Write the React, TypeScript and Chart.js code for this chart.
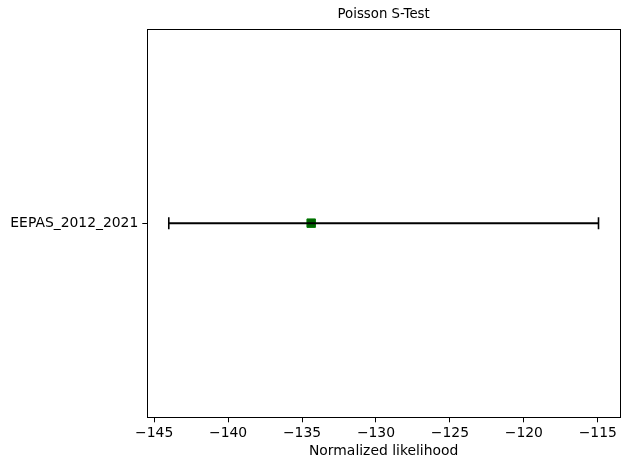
import React, { useEffect, useRef } from "react";
import { Chart, registerables } from "chart.js";

Chart.register(...registerables);

const models = ["EEPAS_2012_2021"];
const lowerBounds = [-144.01];
const upperBounds = [-114.95];
const observed = [-134.38];
const xTicks = [-145, -140, -135, -130, -125, -120, -115];
const chartTitle = "Poisson S-Test";
const xLabel = "Normalized likelihood";

const FONT = "'DejaVu Sans', sans-serif";

export default function App() {
  const ref = useRef<HTMLCanvasElement>(null);
  useEffect(() => {
    if (!ref.current) return;
    const lo = Math.min(...lowerBounds);
    const hi = Math.max(...upperBounds);
    const pad = (hi - lo) * 0.05;
    const datasets: any[] = [];
    models.forEach((m, i) => {
      datasets.push({
        label: m + " range",
        data: [
          { x: lowerBounds[i], y: i },
          { x: upperBounds[i], y: i },
        ],
        showLine: true,
        borderColor: "#000",
        borderWidth: 2,
        pointStyle: "line",
        pointRotation: 90,
        pointRadius: 6,
        pointBorderColor: "#000",
        pointBorderWidth: 1.6,
        pointBackgroundColor: "#000",
      });
      datasets.push({
        label: m,
        data: [{ x: observed[i], y: i }],
        pointStyle: "rect",
        pointRadius: 6,
        pointBackgroundColor: "#006400",
        pointBorderColor: "#007a00",
        pointBorderWidth: 1,
      });
    });
    const boxPlugin = {
      id: "boxAndTitle",
      afterDraw(chart: any) {
        const { ctx, chartArea } = chart;
        ctx.save();
        ctx.strokeStyle = "#000";
        ctx.lineWidth = 1;
        ctx.strokeRect(
          Math.round(chartArea.left) + 0.5,
          Math.round(chartArea.top) + 0.5,
          Math.round(chartArea.right - chartArea.left),
          Math.round(chartArea.bottom - chartArea.top)
        );
        ctx.fillStyle = "#000";
        ctx.font = `13.3px ${FONT}`;
        ctx.textAlign = "center";
        ctx.textBaseline = "middle";
        ctx.fillText(chartTitle, (chartArea.left + chartArea.right) / 2, 15);
        ctx.restore();
      },
    };
    const chart = new Chart(ref.current, {
      type: "scatter",
      data: { datasets },
      options: {
        animation: false,
        responsive: false,
        layout: { padding: { top: 29, right: 10, left: 0, bottom: 0 } },
        plugins: {
          legend: { display: false },
          tooltip: { enabled: false },
          title: { display: false },
        },
        scales: {
          x: {
            type: "linear",
            min: lo - pad,
            max: hi + pad,
            afterBuildTicks: (axis: any) => {
              axis.ticks = xTicks.map((v) => ({ value: v }));
            },
            afterFit: (axis: any) => {
              axis.height = 52.7;
            },
            grid: {
              display: true,
              drawOnChartArea: false,
              drawTicks: true,
              tickLength: 5,
              color: "#000",
            },
            border: { display: true, color: "#000", width: 1 },
            ticks: {
              color: "#000",
              padding: 3,
              font: { family: FONT, size: 13.9 },
              maxRotation: 0,
              callback: (v: any) => String(v).replace("-", "\u2212"),
            },
            title: {
              display: true,
              text: xLabel,
              color: "#000",
              font: { family: FONT, size: 13.9 },
              padding: { top: 0, bottom: 10 },
            },
          },
          y: {
            type: "linear",
            min: -1,
            max: models.length,
            reverse: true,
            afterBuildTicks: (axis: any) => {
              axis.ticks = models.map((_, i) => ({ value: i }));
            },
            afterFit: (axis: any) => {
              axis.width = 147.3;
            },
            grid: {
              display: true,
              drawOnChartArea: false,
              drawTicks: true,
              tickLength: 5,
              color: "#000",
            },
            border: { display: true, color: "#000", width: 1 },
            ticks: {
              color: "#000",
              padding: 4,
              font: { family: FONT, size: 13.9 },
              callback: (v: any) => models[Number(v)] ?? "",
            },
          },
        },
      },
      plugins: [boxPlugin],
    } as any);
    return () => chart.destroy();
  }, []);
  return (
    <div style={{ position: "fixed", left: 0, top: 0, width: 630, height: 470, background: "#fff" }}>
      <canvas ref={ref} width={630} height={470} />
    </div>
  );
}
